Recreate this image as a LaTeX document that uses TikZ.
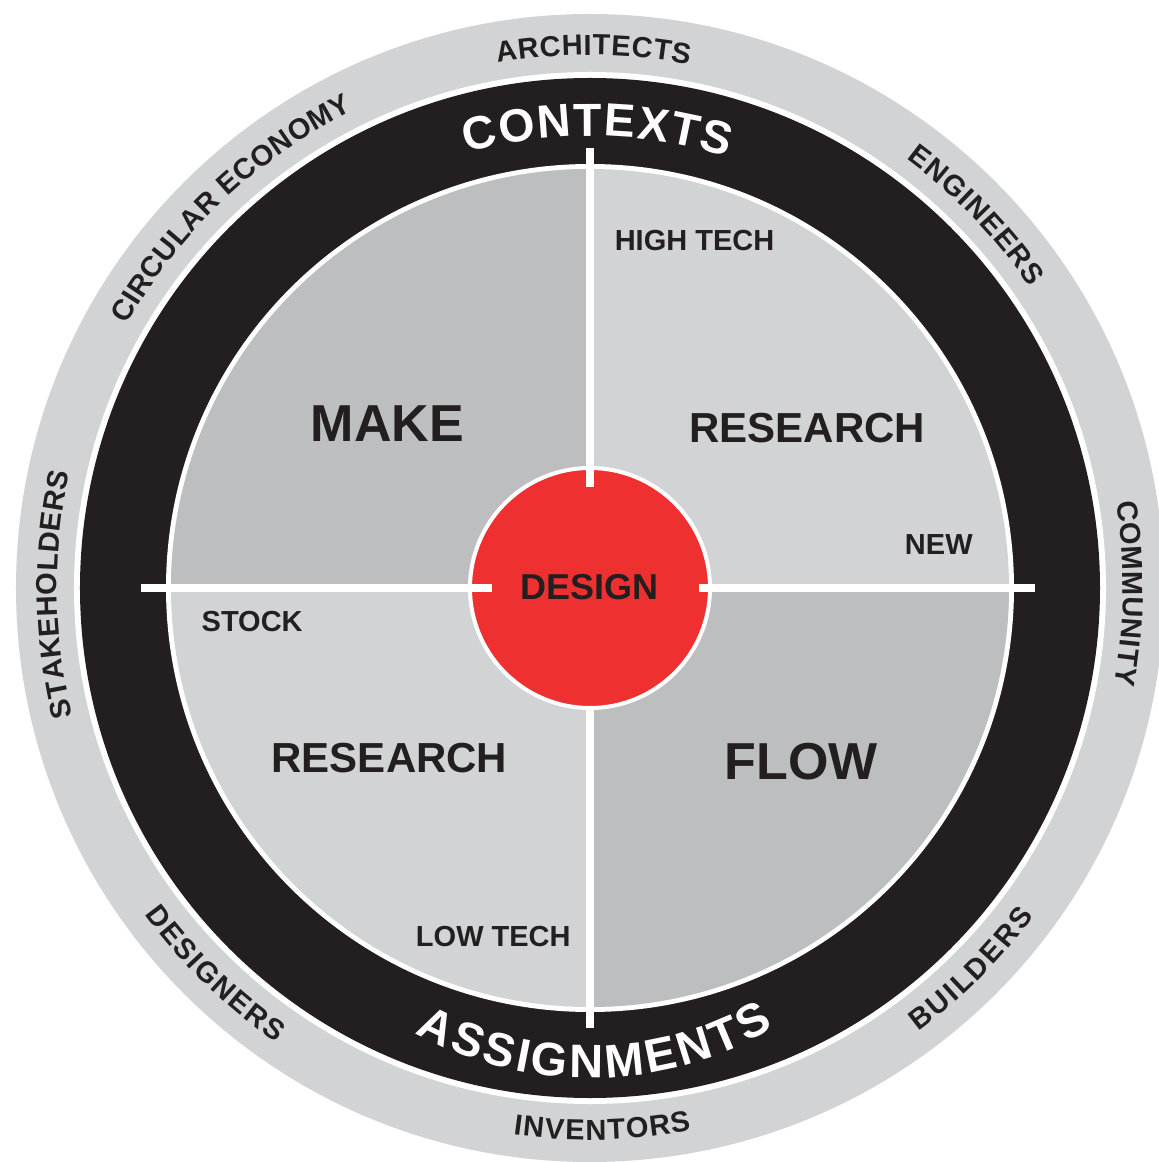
\documentclass[tikz,border=0pt]{standalone}
\usepackage{fontspec}
\setmainfont{Liberation Sans}
\usetikzlibrary{decorations.text}
\definecolor{ringgrey}{HTML}{D1D3D4}
\definecolor{darkq}{HTML}{BCBEC0}
\definecolor{inkblack}{HTML}{231F20}
\definecolor{designred}{HTML}{EF3030}
\newcommand{\lblf}{\fontsize{29}{29}\selectfont\bfseries}
\newcommand{\bigf}{\fontsize{46.5}{46.5}\selectfont\bfseries}
\newcommand{\bigfb}{\fontsize{47}{47}\selectfont\bfseries}
\tikzset{
  outlbl/.style={decorate, decoration={text along path, text color=inkblack,
      text align={fit to path}, text={|\lblf|#1}}},
  biglbl/.style={decorate, decoration={text along path, text color=white,
      text align={fit to path}, text={|\bigf|#1}}},
  biglblb/.style={decorate, decoration={text along path, text color=white,
      text align={fit to path}, text={|\bigfb|#1}}},
  crossline/.style={white, line width=8},
  inner/.style={inner sep=0, anchor=base, text=inkblack},
  small/.style={inner, font=\fontsize{29}{29}\selectfont\bfseries},
  mid/.style={inner, font=\fontsize{42}{42}\selectfont\bfseries},
  large/.style={inner, font=\fontsize{52}{52}\selectfont\bfseries}
}
\begin{document}
\begin{tikzpicture}[x=1pt,y=1pt]
\useasboundingbox (-590,-574) rectangle (569,588);
\clip (-590,-574) rectangle (569,588);
% rings
\fill[ringgrey] (0,0) circle (574);
\fill[white] (0,0) circle (516);
\fill[inkblack] (0,0) circle (510);
\fill[white] (0,0) circle (424);
\fill[ringgrey] (0,0) circle (419);
\fill[darkq] (0,0) -- (180:419) arc[start angle=180, end angle=90, radius=419] -- cycle;
\fill[darkq] (0,0) -- (0:419) arc[start angle=0, end angle=-90, radius=419] -- cycle;
% centre
\draw[white, line width=4, fill=designred] (0,0) circle (120);
% cross
\draw[crossline] (-449,0) -- (-98,0);
\draw[crossline] (109,0) -- (445,0);
\draw[crossline] (0,440) -- (0,101);
\draw[crossline] (0,-122) -- (0,-440);
% inner texts
\node[large] (make) at (-202.5,146) {MAKE};
\node[mid] (researchtr) at (217.2,145.7) {RESEARCH};
\node[mid] (researchbl) at (-200.5,-184.7) {RESEARCH};
\node[large] (flow) at (211,-191) {FLOW};
\node[inner, font=\fontsize{36}{36}\selectfont\bfseries] (design) at (-0.8,-12) {DESIGN};
\node[small] (hightech) at (104.5,337.3) {HIGH TECH};
\node[small] (new) at (348.8,33) {NEW};
\node[small] (stock) at (-337.8,-43.7) {STOCK};
\node[small] (lowtech) at (-96.7,-358) {LOW TECH};
% black ring texts
\path[biglbl=CONTEXTS] (105.8:452) arc[start angle=105.8, end angle=72.3, radius=452];
\path[biglblb=ASSIGNMENTS] ([shift={(0,-127)}]-118.8:363) arc[start angle=-118.8, end angle=-59.5, radius=363];
% outer ring texts
\path[outlbl=ARCHITECTS] (100:533) arc[start angle=100, end angle=79.2, radius=533];
\path[outlbl=CIRCULAR ECONOMY] (150.4:533) arc[start angle=150.4, end angle=116.4, radius=533];
\path[outlbl=ENGINEERS] (53.6:533) arc[start angle=53.6, end angle=34.4, radius=533];
\path[outlbl=COMMUNITY] (9.2:533) arc[start angle=9.2, end angle=-10.4, radius=533];
\path[outlbl=STAKEHOLDERS] (193.9:533) arc[start angle=193.9, end angle=167.5, radius=533];
\path[outlbl=INVENTORS] (-98:552) arc[start angle=-98, end angle=-79.4, radius=552];
\path[outlbl=BUILDERS] (-53.5:552) arc[start angle=-53.5, end angle=-36.5, radius=552];
\path[outlbl=DESIGNERS] (-143.8:552) arc[start angle=-143.8, end angle=-124.6, radius=552];
\end{tikzpicture}
\end{document}
